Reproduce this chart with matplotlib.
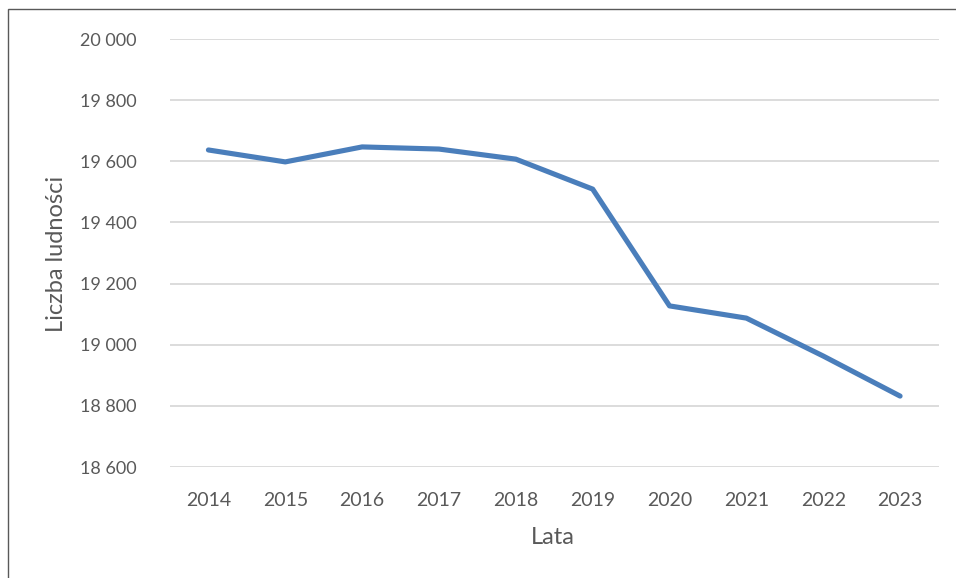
import matplotlib
matplotlib.use("Agg")
import matplotlib.pyplot as plt
from matplotlib.patches import Rectangle
from matplotlib.ticker import FuncFormatter

years = ["2014", "2015", "2016", "2017", "2018", "2019", "2020", "2021", "2022", "2023"]
population = [19637, 19598, 19647, 19640, 19607, 19509, 19127, 19087, 18963, 18832]
yticks = [18600, 18800, 19000, 19200, 19400, 19600, 19800, 20000]

plt.rcParams['font.family'] = ['Lato', 'DejaVu Sans']

W, H = 956, 578
fig = plt.figure(figsize=(W / 100, H / 100), dpi=100)
fig.patch.set_facecolor('white')

# outer frame
fig.patches.append(Rectangle((8 / W, -0.01), 1.02, 1 - 9 / H + 0.01, transform=fig.transFigure,
                             fill=False, edgecolor='#595959', linewidth=1.0))

ax = fig.add_axes([170 / W, 1 - 467 / H, (938.5 - 170) / W, (467 - 39) / H])
x = list(range(len(years)))
ax.plot(x, population, color='#4a7ebb', linewidth=3.7, solid_capstyle='round', solid_joinstyle='round', zorder=3)

ax.set_xlim(-0.5, len(years) - 0.5)
ax.set_ylim(18600, 20000)
ax.set_yticks(yticks)
ax.yaxis.set_major_formatter(FuncFormatter(lambda v, p: f"{int(v):,}".replace(",", " ")))
ax.set_xticks(x)
ax.set_xticklabels(years)

ax.grid(axis='y', color='#d9d9d9', linewidth=1.3)
ax.set_axisbelow(True)
for s in ax.spines.values():
    s.set_visible(False)
ax.tick_params(axis='y', length=0, labelsize=13, colors='#595959', pad=24)
ax.tick_params(axis='x', length=0, labelsize=14, colors='#595959', pad=18)

fig.text(57 / W, 1 - 254 / H, "Liczba ludności", rotation=90, ha='center', va='center',
         fontsize=17, color='#595959')
fig.text(553 / W, 1 - 537 / H, "Lata", ha='center', va='center', fontsize=17, color='#595959')

fig.savefig("out.png", dpi=100, facecolor='white')
